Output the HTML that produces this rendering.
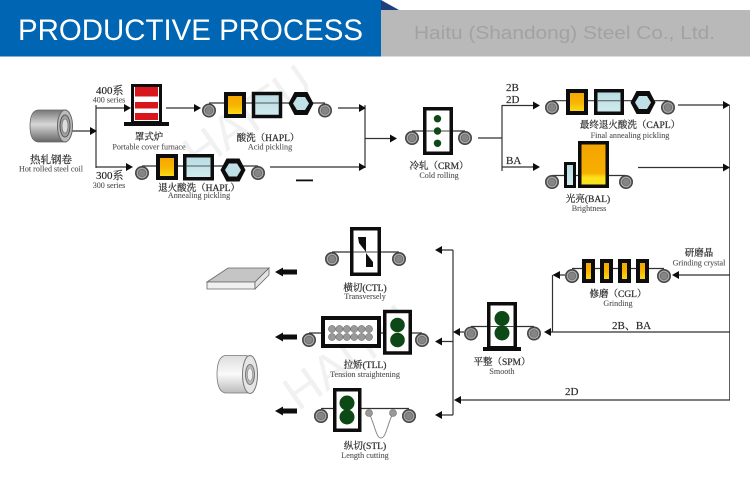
<!DOCTYPE html>
<html><head><meta charset="utf-8"><style>
html,body{margin:0;padding:0;background:#fff}
svg{display:block}
.c{font-family:"Liberation Serif","Noto Serif CJK SC",serif;font-size:9.5px;fill:#333;stroke:#333;stroke-width:.25;text-anchor:middle}
.e{font-family:"Liberation Serif",serif;font-size:8.1px;fill:#555;stroke:#555;stroke-width:.12;text-anchor:middle}
.l{font-family:"Liberation Serif","Noto Serif CJK SC",serif;font-size:11px;fill:#222;stroke:#222;stroke-width:.15}
.w{font-family:"Liberation Sans",sans-serif;font-size:48px;fill:#000;opacity:.055}
</style></head><body>
<svg width="750" height="488" viewBox="0 0 750 488" xmlns="http://www.w3.org/2000/svg">
<defs>
<filter id="soft" x="0" y="0" width="100%" height="100%"><feGaussianBlur stdDeviation=".35"/></filter>
<linearGradient id="y" x1="0" y1="0" x2="0" y2="1"><stop offset="0" stop-color="#f5a500"/><stop offset=".5" stop-color="#f7b400"/><stop offset="1" stop-color="#fbe21a"/></linearGradient>
<linearGradient id="y2" x1="0" y1="0" x2="0" y2="1"><stop offset="0" stop-color="#f5a500"/><stop offset=".7" stop-color="#f6ae00"/><stop offset=".8" stop-color="#fbe21a"/><stop offset="1" stop-color="#fbe21a"/></linearGradient>
<linearGradient id="b" x1="0" y1="0" x2="0" y2="1"><stop offset="0" stop-color="#b7dbe2"/><stop offset="1" stop-color="#d2ecf0"/></linearGradient>
<linearGradient id="g" x1="0" y1="0" x2="0" y2="1"><stop offset="0" stop-color="#777"/><stop offset=".45" stop-color="#d8d8d8"/><stop offset="1" stop-color="#666"/></linearGradient>
<linearGradient id="g2" x1="0" y1="0" x2="0" y2="1"><stop offset="0" stop-color="#ddd"/><stop offset=".5" stop-color="#fafafa"/><stop offset="1" stop-color="#bbb"/></linearGradient>
<linearGradient id="s" x1="0" y1="0" x2="1" y2="0"><stop offset="0" stop-color="#888"/><stop offset="1" stop-color="#e8e8e8"/></linearGradient>
<g id="r"><circle r="6.2" fill="#a8a8a8" stroke="#444" stroke-width="1.6"/><circle r="3.8" fill="#858585" stroke="#666" stroke-width=".7"/></g>
<g id="hex"><polygon points="-12.500,0 -6.500,-11.500 6.500,-11.500 12.500,0 6.500,11.500 -6.500,11.500" fill="#111"/><polygon points="-8,0 -4,-6.500 4,-6.500 8,0 4,6.500 -4,6.500" fill="#bfe0e6"/></g>
</defs>

<!-- header -->
<rect x="0" y="0" width="381" height="56.500" fill="#0066b3"/>
<rect x="381" y="10" width="369" height="46.500" fill="#b9b9b9"/>
<polygon points="381,0 399,10 381,10" fill="#1f3f7d"/>
<text x="18" y="40" font-family="Liberation Sans,sans-serif" font-size="30" fill="#fff" textLength="345" lengthAdjust="spacingAndGlyphs">PRODUCTIVE PROCESS</text>
<text x="414" y="39" font-family="Liberation Sans,sans-serif" font-size="18.500" fill="#a2a2a2" textLength="301" lengthAdjust="spacingAndGlyphs">Haitu (Shandong) Steel Co., Ltd.</text>

<g filter="url(#soft)">
<!-- watermarks -->
<text class="w" transform="translate(198,172) rotate(-35)">HAITU</text>
<text class="w" transform="translate(298,412) rotate(-35)">HAITU</text>

<!-- connectors -->
<g stroke="#333" stroke-width="1.200" fill="none">
<path d="M72 131H92M96 105V168M96 108H126M96 167H129"/>
<path d="M166 108H195M338 108H361M270 167H361M365 105V168M365 138.500H392"/>
<path d="M478 138H502M502 105V171M502 105.500H535M502 167H535"/>
<path d="M678 105H725M638 167.500H725"/>
<path d="M730 105V400.500" stroke-width="1.900" stroke="#555"/>
<path d="M730 275H676M730 332H548M730 400H458M552.500 275V332M565 275H556"/>
<path d="M453 250V415M453 250H440M453 341.500H440M453 415H440M464 332H457"/>
</g>
<g fill="#111">
<polygon points="97,131 90,127 90,135"/>
<polygon points="131,108 124,104 124,112"/><polygon points="133,167 126,163 126,171"/>
<polygon points="201,108 194,104 194,112"/><polygon points="366,108 359,104 359,112"/>
<polygon points="366,167 359,163 359,171"/><polygon points="397,138.500 390,134.500 390,142.500"/>
<polygon points="540,105.500 533,101.500 533,109.500"/><polygon points="540,167 533,163 533,171"/>
<polygon points="730,105 723,101 723,109"/><polygon points="730,167.500 723,163.500 723,171.500"/>
<polygon points="672,275 679,271 679,279"/><polygon points="552.500,275 560,271 560,279"/>
<polygon points="544,332 551,328 551,336"/><polygon points="454,400 461,396 461,404"/>
<polygon points="453,332 460,328 460,336"/>
<polygon points="435,250 442,246 442,254"/><polygon points="435,341.500 442,337.500 442,345.500"/><polygon points="435,415 442,411 442,419"/>
<rect x="296" y="179.500" width="17" height="1.800"/>
<rect x="282" y="269.500" width="15" height="5"/><polygon points="275,272 283,267.500 283,276.500"/>
<rect x="282" y="334.500" width="15" height="5"/><polygon points="275,337 283,332.500 283,341.500"/>
<rect x="282" y="408.500" width="15" height="5"/><polygon points="275,411 283,406.500 283,415.500"/>
</g>

<!-- coil 1 -->
<path d="M38 110H66V142H38Q30 141 30 126Q30 111 38 110Z" fill="url(#g)" stroke="#666" stroke-width=".8"/>
<ellipse cx="65" cy="126" rx="7.500" ry="16" fill="#bbb" stroke="#666"/>
<ellipse cx="65" cy="126" rx="5" ry="11" fill="#a0a0a0" stroke="#555"/>
<ellipse cx="65" cy="126" rx="3" ry="7" fill="#ddd" stroke="#666" stroke-width=".6"/>
<text class="c" x="51" y="163" style="font-size:10.500px">热轧钢卷</text>
<text class="e" x="51" y="171.500">Hot rolled steel coil</text>
<text class="l" x="96" y="94">400系</text>
<text class="e" x="109" y="102.500">400 series</text>
<text class="l" x="96" y="179">300系</text>
<text class="e" x="109" y="188">300 series</text>

<!-- furnace -->
<rect x="132.500" y="85.500" width="28" height="37" fill="#fff" stroke="#111" stroke-width="3"/>
<g fill="#d8141f"><rect x="135" y="87" width="23" height="9.500"/><rect x="135" y="102" width="23" height="6.500"/><rect x="135" y="113" width="23" height="7"/></g>
<rect x="124" y="122" width="45" height="4" fill="#111"/>
<text class="c" x="149" y="140">罩式炉</text>
<text class="e" x="149" y="149.500">Portable cover furnace</text>

<!-- HAPL acid -->
<path d="M209 103H325" stroke="#333" stroke-width="1.200" fill="none"/>
<use href="#r" x="209" y="110.500"/><use href="#r" x="325" y="110.500"/>
<rect x="226" y="94" width="18" height="22" fill="url(#y)" stroke="#111" stroke-width="4"/>
<rect x="253.500" y="93.500" width="27" height="23" fill="url(#b)" stroke="#111" stroke-width="3.500"/>
<path d="M255 103H279" stroke="#555"/>
<use href="#hex" x="301" y="103.500"/>
<text class="c" x="268" y="141">酸洗（HAPL）</text>
<text class="e" x="270" y="149.500">Acid pickling</text>

<!-- HAPL anneal -->
<path d="M142 166H258" stroke="#333" stroke-width="1.200" fill="none"/>
<use href="#r" x="142" y="173"/><use href="#r" x="258" y="173"/>
<rect x="158" y="156" width="18" height="22" fill="url(#y)" stroke="#111" stroke-width="4"/>
<rect x="184.750" y="155.750" width="27.500" height="23" fill="url(#b)" stroke="#111" stroke-width="3.500"/>
<path d="M186 166H211" stroke="#555"/>
<use href="#hex" x="233" y="170"/>
<text class="c" x="199" y="191">退火酸洗（HAPL）</text>
<text class="e" x="199" y="198">Annealing pickling</text>

<!-- CRM -->
<path d="M412 131H465" stroke="#333" stroke-width="1.200" fill="none"/>
<use href="#r" x="412" y="138"/><use href="#r" x="465" y="138"/>
<rect x="424.750" y="108.750" width="26.500" height="44.500" fill="#fff" stroke="#111" stroke-width="3.500"/>
<path d="M426 131H450" stroke="#444"/>
<g fill="#0f4a12"><circle cx="437.500" cy="118.700" r="3.700"/><circle cx="437.500" cy="131" r="3.700"/><circle cx="437.500" cy="143.300" r="3.700"/></g>
<text class="c" x="439" y="169">冷轧（CRM）</text>
<text class="e" x="439" y="178">Cold rolling</text>
<text class="l" x="506" y="91">2B</text><text class="l" x="506" y="103">2D</text><text class="l" x="506" y="164">BA</text>

<!-- CAPL -->
<path d="M552 100.700H668" stroke="#333" stroke-width="1.200" fill="none"/>
<use href="#r" x="552" y="107.500"/><use href="#r" x="668" y="107.500"/>
<rect x="568" y="91" width="18" height="22" fill="url(#y)" stroke="#111" stroke-width="4"/>
<rect x="595.750" y="90.750" width="26.500" height="22.500" fill="url(#b)" stroke="#111" stroke-width="3.500"/>
<path d="M597 100.700H621" stroke="#555"/>
<use href="#hex" x="643" y="102.500"/>
<text class="c" x="630" y="128">最终退火酸洗（CAPL）</text>
<text class="e" x="630" y="138">Final annealing pickling</text>

<!-- BAL -->
<path d="M552 175.500H626" stroke="#333" stroke-width="1.200" fill="none"/>
<use href="#r" x="552" y="182"/><use href="#r" x="626" y="182"/>
<rect x="565.500" y="163.500" width="9" height="23" fill="url(#b)" stroke="#111" stroke-width="3"/>
<rect x="579.750" y="142.750" width="27.500" height="43.500" fill="url(#y2)" stroke="#111" stroke-width="3.500"/>
<text class="c" x="588" y="202">光亮(BAL)</text>
<text class="e" x="589" y="211">Brightness</text>

<!-- CGL -->
<path d="M572 268.500H664" stroke="#333" stroke-width="1.200" fill="none"/>
<use href="#r" x="572" y="276"/><use href="#r" x="664" y="276"/>
<g fill="url(#y)" stroke="#111" stroke-width="4"><rect x="584" y="261" width="9" height="20"/><rect x="602" y="261" width="9" height="20"/><rect x="620" y="261" width="9" height="20"/><rect x="638" y="261" width="9" height="20"/></g>
<text class="c" x="618" y="297">修磨（CGL）</text>
<text class="e" x="618" y="306">Grinding</text>
<text class="c" x="699" y="256">研磨晶</text>
<text class="e" x="699" y="265.500">Grinding crystal</text>
<text class="l" x="612" y="329">2B、BA</text>
<text class="l" x="565" y="395">2D</text>

<!-- SPM -->
<path d="M471 326.500H534" stroke="#333" stroke-width="1.200" fill="none"/>
<use href="#r" x="471" y="333.500"/><use href="#r" x="534" y="333.500"/>
<rect x="488.750" y="303.750" width="26.500" height="44" fill="#fff" stroke="#111" stroke-width="3.500"/>
<rect x="483" y="347" width="38" height="4" fill="#111"/>
<path d="M490 326.500H514" stroke="#444"/>
<circle cx="502" cy="318.500" r="7.500" fill="#0f4a12"/><circle cx="502" cy="333" r="7.500" fill="#0f4a12"/>
<text class="c" x="502" y="365">平整（SPM）</text>
<text class="e" x="502" y="374">Smooth</text>

<!-- CTL -->
<path d="M332 252H399" stroke="#333" stroke-width="1.200" fill="none"/>
<use href="#r" x="332" y="259"/><use href="#r" x="399" y="259"/>
<rect x="351.750" y="228.750" width="27.500" height="45.500" fill="#fff" stroke="#111" stroke-width="3.500"/>
<polygon points="358,237 366,237 366,252 359,243" fill="#111"/>
<polygon points="366,253 373,262 373,267 366,267" fill="#111"/>
<path d="M353 252H378" stroke="#444"/>
<text class="c" x="365" y="291">横切(CTL)</text>
<text class="e" x="365" y="299">Transversely</text>

<!-- slab -->
<polygon points="207,282 228,268 269,268 255,282" fill="#c5c5c5" stroke="#666" stroke-width=".8"/>
<polygon points="207,282 255,282 255,289 207,289" fill="#f0f0f0" stroke="#666" stroke-width=".8"/>
<polygon points="255,282 269,268 269,275 255,289" fill="#e2e2e2" stroke="#666" stroke-width=".8"/>

<!-- TLL -->
<path d="M309 333H422" stroke="#333" stroke-width="1.200" fill="none"/>
<use href="#r" x="309" y="340"/><use href="#r" x="422" y="340"/>
<rect x="323" y="318" width="56" height="28" fill="#fff" stroke="#111" stroke-width="4"/>
<g fill="#999" stroke="#666" stroke-width=".5">
<circle cx="332" cy="329" r="3.600"/><circle cx="339.400" cy="329" r="3.600"/><circle cx="346.800" cy="329" r="3.600"/><circle cx="354.200" cy="329" r="3.600"/><circle cx="361.600" cy="329" r="3.600"/><circle cx="369" cy="329" r="3.600"/>
<circle cx="332" cy="337" r="3.600"/><circle cx="339.400" cy="337" r="3.600"/><circle cx="346.800" cy="337" r="3.600"/><circle cx="354.200" cy="337" r="3.600"/><circle cx="361.600" cy="337" r="3.600"/><circle cx="369" cy="337" r="3.600"/>
</g>
<rect x="384.750" y="311.500" width="25.500" height="41.500" fill="#fff" stroke="#111" stroke-width="3.500"/>
<circle cx="397.500" cy="325" r="7.300" fill="#0f4a12"/><circle cx="397.500" cy="340" r="7.300" fill="#0f4a12"/>
<text class="c" x="365" y="368">拉矫(TLL)</text>
<text class="e" x="365" y="377">Tension straightening</text>

<!-- coil 2 -->
<path d="M225 355.500H247V393H225Q217 391 217 374.500Q217 357 225 355.500Z" fill="url(#g2)" stroke="#777" stroke-width=".8"/>
<ellipse cx="250" cy="374.500" rx="7.500" ry="19" fill="#e5e5e5" stroke="#777"/>
<ellipse cx="250" cy="374.500" rx="4.500" ry="10" fill="#bbb" stroke="#777"/>
<ellipse cx="250" cy="374.500" rx="2.600" ry="6.500" fill="#eee" stroke="#888" stroke-width=".6"/>

<!-- STL -->
<path d="M321 408.500H409" stroke="#333" stroke-width="1.200" fill="none"/>
<path d="M369 413C375 425 376 438 381 438C386 438 387 425 393 413" stroke="#888" stroke-width="1" fill="none"/>
<use href="#r" x="321" y="416"/><use href="#r" x="409" y="416"/>
<circle cx="369" cy="413" r="3.500" fill="#999" stroke="#666" stroke-width=".6"/><circle cx="393" cy="413" r="3.500" fill="#999" stroke="#666" stroke-width=".6"/>
<rect x="334.750" y="389.750" width="25" height="40.500" fill="#fff" stroke="#111" stroke-width="3.500"/>
<circle cx="347" cy="403" r="7.500" fill="#0f4a12"/><circle cx="347" cy="417" r="7.500" fill="#0f4a12"/>
<text class="c" x="365" y="449">纵切(STL)</text>
<text class="e" x="365" y="458">Length cutting</text>
</g>
</svg>
</body></html>
